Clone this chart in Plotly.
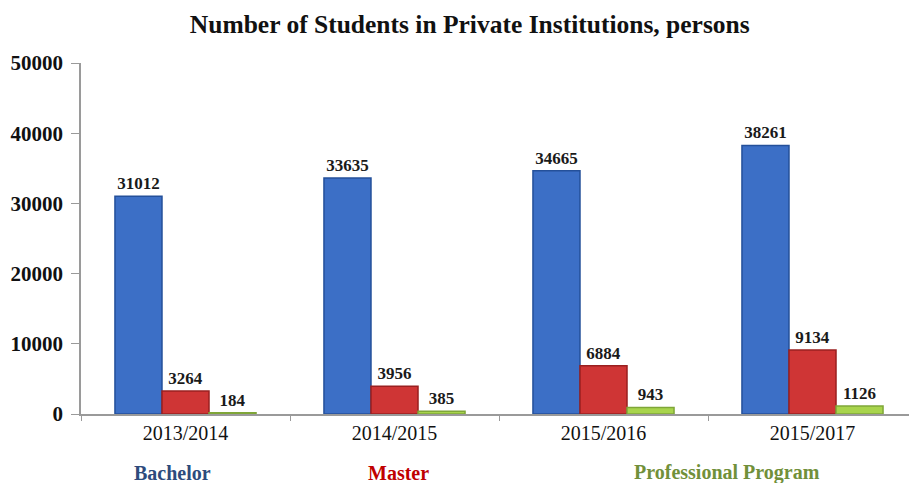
import plotly.graph_objects as go

categories = ["2013/2014", "2014/2015", "2015/2016", "2015/2017"]
bachelor = [31012, 33635, 34665, 38261]
master = [3264, 3956, 6884, 9134]
professional = [184, 385, 943, 1126]
series_names = ["Bachelor", "Master", "Professional Program"]
y_ticks = [0, 10000, 20000, 30000, 40000, 50000]

FONT = "Liberation Serif, Times New Roman, serif"
fills = ["#3C6FC6", "#CF3535", "#A8D44C"]
edges = ["#24509A", "#9A2020", "#7FA638"]
legend_colors = ["#2D4B7C", "#C00000", "#71903A"]

fig = go.Figure()
for name, vals, fc, ec in zip(series_names, [bachelor, master, professional], fills, edges):
    fig.add_trace(go.Bar(
        x=categories, y=vals, name=name,
        marker=dict(color=fc, line=dict(color=ec, width=1.5)),
        text=["<b>" + str(v) + "</b>" for v in vals], textposition="outside",
        textfont=dict(family=FONT, size=17, color="#1a1a1a"),
        cliponaxis=False, showlegend=False,
    ))

legend_x = [0.109, 0.380, 0.773]
for name, col, lx in zip(series_names, legend_colors, legend_x):
    fig.add_annotation(
        text="<b>" + name + "</b>", x=lx, xref="paper", y=-0.168, yref="paper",
        xanchor="center", yanchor="middle", showarrow=False,
        font=dict(family=FONT, size=20, color=col),
    )

fig.update_layout(
    width=909, height=475,
    margin=dict(l=73, r=0, t=55, b=69),
    paper_bgcolor="white", plot_bgcolor="white",
    barmode="group", bargap=0.325, bargroupgap=0,
    title=dict(text="<b>Number of Students in Private Institutions, persons</b>",
               x=0.508, xanchor="center", y=0.966, yanchor="middle",
               font=dict(family=FONT, size=25.5, color="#111111")),
    font=dict(family=FONT),
)
fig.update_xaxes(
    showline=True, linecolor="#9a9a9a", linewidth=1.5,
    ticks="outside", tickson="boundaries", ticklen=5, tickcolor="#9a9a9a",
    tickfont=dict(family=FONT, size=20, color="#111111"),
    showgrid=False,
)
fig.update_yaxes(
    range=[0, 50000], tickvals=y_ticks, ticktext=["<b>" + str(t) + "</b>" for t in y_ticks],
    showline=True, linecolor="#9a9a9a", linewidth=1.5,
    ticks="outside", ticklen=8, tickcolor="#9a9a9a", ticklabelstandoff=4,
    tickfont=dict(family=FONT, size=21, color="#111111"),
    showgrid=False, zeroline=False,
)

fig.write_html("out.html")
